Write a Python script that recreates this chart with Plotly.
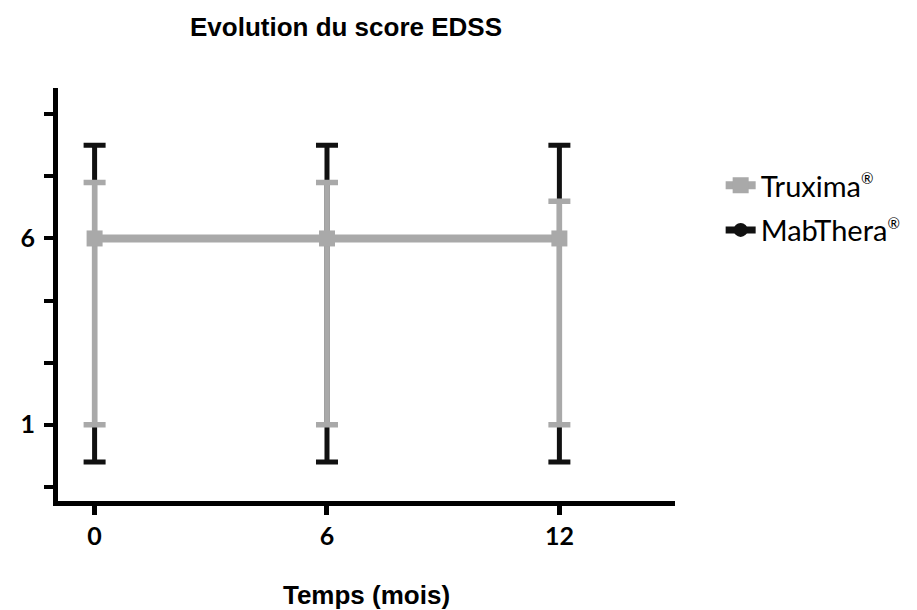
import plotly.graph_objects as go

# Data
months = [0, 6, 12]
truxima_mean = [6, 6, 6]
truxima_upper = [7.5, 7.5, 7.0]
truxima_lower = [1, 1, 1]
mabthera_mean = [6, 6, 6]
mabthera_upper = [8.5, 8.5, 8.5]
mabthera_lower = [0, 0, 0]

x_tick_vals = [0, 6, 12]
x_tick_text = ["0", "6", "12"]
y_tick_vals = [1, 6]
y_tick_text = ["1", "6"]

GRAY = "#a9a9a9"
BLACK = "#111111"
REG = '<sup><span style="font-size:15px">®</span></sup>'

fig = go.Figure()

fig.add_trace(go.Scatter(
    x=months, y=mabthera_mean, mode="lines+markers",
    name="MabThera" + REG, legendrank=2, legendgroup="m",
    line=dict(color=BLACK, width=7),
    marker=dict(symbol="circle", size=14, color=BLACK),
    error_y=dict(type="data", symmetric=False,
                 array=[u - m for u, m in zip(mabthera_upper, mabthera_mean)],
                 arrayminus=[m - l for m, l in zip(mabthera_mean, mabthera_lower)],
                 color=BLACK, thickness=5, width=11),
))

fig.add_trace(go.Scatter(
    x=months, y=truxima_mean, mode="lines+markers",
    name="Truxima" + REG, legendrank=1, legendgroup="t",
    line=dict(color=GRAY, width=8),
    marker=dict(symbol="square", size=16, color=GRAY),
    error_y=dict(type="data", symmetric=False,
                 array=[u - m for u, m in zip(truxima_upper, truxima_mean)],
                 arrayminus=[m - l for m, l in zip(truxima_mean, truxima_lower)],
                 color=GRAY, thickness=5.5, width=11),
))

fig.update_layout(
    width=917, height=610,
    margin=dict(l=43, r=250, t=80, b=113),
    paper_bgcolor="white", plot_bgcolor="white",
    title=dict(text="Evolution du score EDSS", x=0.3686, xanchor="center",
               y=0.969, yanchor="middle",
               font=dict(family="Liberation Sans", size=26, color="black", weight="bold")),
    showlegend=True,
    legend=dict(x=1.074, xanchor="left", y=0.826, yanchor="top",
                traceorder="grouped", tracegroupgap=4,
                font=dict(family="Lato", size=29, color="black"),
                bgcolor="rgba(0,0,0,0)"),
)

fig.update_xaxes(
    range=[-0.945, 14.985], showgrid=False, zeroline=False,
    showline=True, linecolor="black", linewidth=5,
    tickmode="array", tickvals=x_tick_vals, ticktext=x_tick_text,
    ticks="outside", ticklen=9, tickwidth=5, tickcolor="black",
    tickfont=dict(family="Lato", size=25, color="black", weight="bold"),
    title=dict(text="Temps (mois)", standoff=38,
               font=dict(family="Liberation Sans", size=26, color="black", weight="bold")),
)

fig.update_yaxes(
    range=[-1.05, 10.04], showgrid=False, zeroline=False,
    showline=True, linecolor="black", linewidth=5,
    tickmode="array", tickvals=y_tick_vals, ticktext=y_tick_text,
    ticks="outside", ticklen=9, tickwidth=4, tickcolor="black",
    ticklabelstandoff=4,
    tickfont=dict(family="Lato", size=25, color="black", weight="bold"),
    minor=dict(tickmode="linear", tick0=1, dtick=5/3, ticks="outside",
               ticklen=9, tickwidth=4, tickcolor="black", showgrid=False),
)

fig.write_html("out.html")
